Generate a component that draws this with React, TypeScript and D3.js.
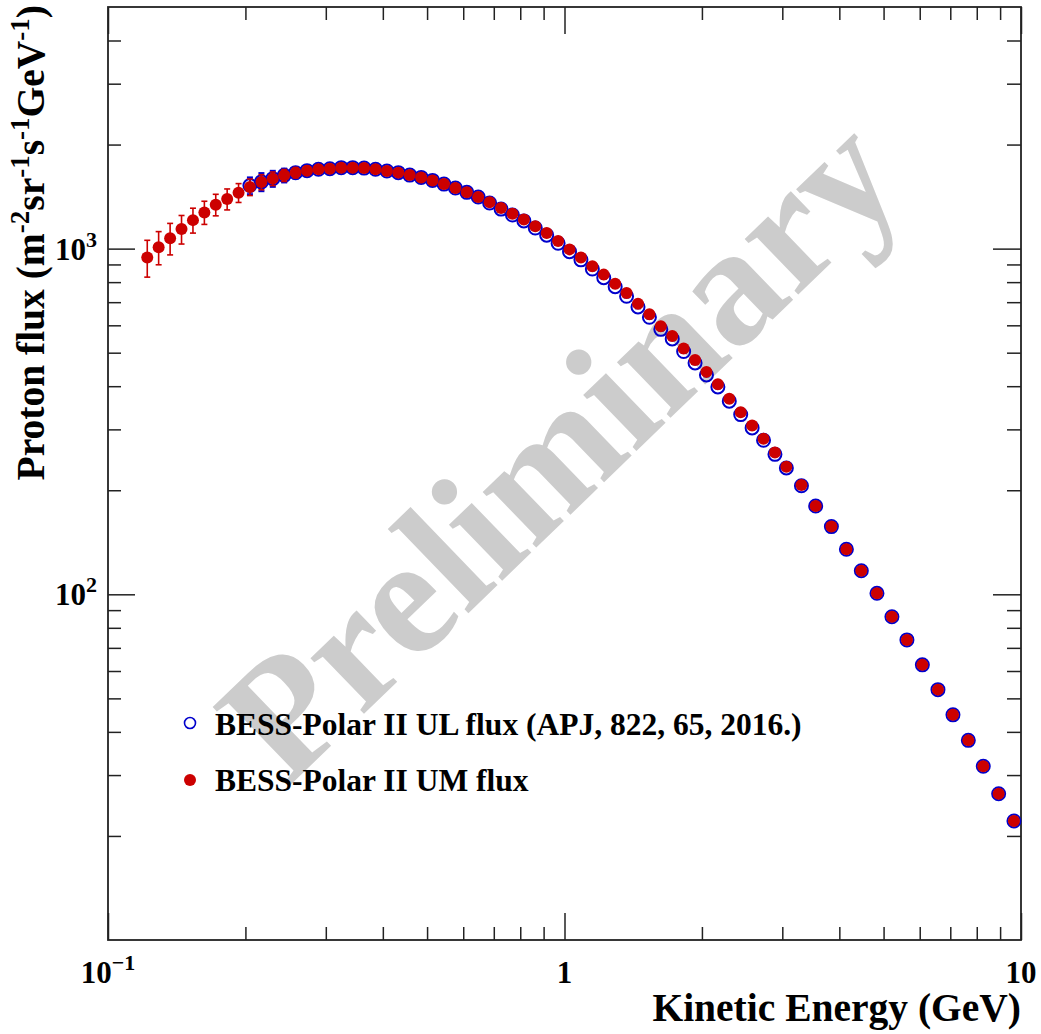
import React, { useEffect, useRef } from 'react'
import * as d3 from 'd3'

// BESS-Polar II UM flux (red, filled)
const energyUM = [0.1219, 0.1291, 0.1368, 0.1449, 0.1535, 0.1626, 0.1722, 0.1824, 0.1932, 0.2046,
  0.2168, 0.2296, 0.2432, 0.2576, 0.2729, 0.2891, 0.3062, 0.3243, 0.3436, 0.3639,
  0.3855, 0.4083, 0.4325, 0.4581, 0.4853, 0.5140, 0.5445, 0.5768, 0.6109, 0.6471,
  0.6855, 0.7261, 0.7691, 0.8147, 0.8630, 0.9141, 0.9683, 1.0257, 1.0864, 1.1508,
  1.2190, 1.2912, 1.3677, 1.4488, 1.5346, 1.6255, 1.7219, 1.8239, 1.9320, 2.0464,
  2.1677, 2.2961, 2.4322, 2.5763, 2.7290, 2.8907, 3.0620, 3.304, 3.550, 3.843,
  4.145, 4.469, 4.836, 5.215, 5.625, 6.080, 6.578, 7.095, 7.667, 8.267, 8.934, 9.650]
const fluxUM = [942, 1009, 1071, 1139, 1209, 1273, 1340, 1391, 1451, 1507,
  1558, 1594, 1629, 1659, 1681, 1696, 1703, 1715, 1715, 1710,
  1696, 1677, 1659, 1632, 1607, 1575, 1537, 1497, 1455, 1410,
  1361, 1310, 1262, 1215, 1160, 1109, 1052, 995, 942, 889,
  841, 792, 744, 693, 646, 596, 559, 514, 476, 440,
  405, 368, 336, 308, 282, 257, 234, 207, 180, 157,
  135, 117, 100.7, 86.1, 73.8, 62.5, 53.0, 44.8, 37.8, 31.8, 26.5, 22.1]
const errUM = [115, 111, 112, 108, 100, 98, 96, 97, 91, 83,
  78, 72, 65, 58, 50, 42, 36, 32, 29, 27,
  25, 24, 23, 22, 21, 20, 19, 18, 17, 16,
  15, 14, 13, 12, 12, 11, 10, 10, 9, 9,
  8, 8, 7, 7, 6, 6, 6, 5, 5, 5,
  4, 4, 4, 3, 3, 3, 3, 3, 2, 2,
  2, 2, 2, 1.5, 1.3, 1.1, 1, 0.9, 0.8, 0.7, 0.6, 0.5]

// BESS-Polar II UL flux (blue, open) - same bins, starting at 0.2 GeV
const energyUL = energyUM.slice(9)
const fluxUL = [1522, 1560, 1594, 1629, 1659, 1681, 1696, 1703, 1715, 1715,
  1710, 1696, 1677, 1659, 1632, 1607, 1575, 1537, 1497, 1455,
  1410, 1355, 1301, 1251, 1203, 1147, 1094, 1036, 980, 928,
  873, 824, 776, 728, 678, 633, 584, 548, 504, 467,
  431, 398, 362, 331, 303, 279, 254, 232, 206, 180,
  157, 135, 117, 100.7, 86.1, 73.8, 62.5, 53.0, 44.8, 37.8,
  31.8, 26.5, 22.1]
const errUL = [85, 94, 85, 75, 62, 50, 40, 34, 30, 28,
  26, 24, 22, 21, 20, 19, 18, 17, 16, 15,
  14, 13, 12, 12, 11, 10, 10, 9, 9, 8,
  8, 7, 7, 6, 6, 6, 5, 5, 5, 4,
  4, 4, 3, 3, 3, 3, 3, 2, 2, 2,
  2, 2, 2, 1.5, 1.3, 1.1, 1, 0.9, 0.8, 0.7,
  0.6, 0.5, 0.4]

const xMajor = [0.1, 1, 10]
const xMinor = [0.2, 0.3, 0.4, 0.5, 0.6, 0.7, 0.8, 0.9, 2, 3, 4, 5, 6, 7, 8, 9]
const yMajor = [100, 1000]
const yMinor = [20, 30, 40, 50, 60, 70, 80, 90, 200, 300, 400, 500, 600, 700, 800, 900, 2000, 3000, 4000]
const xLabels = [{ v: 0.1, base: '10', sup: '\u22121' }, { v: 1, base: '1', sup: '' }, { v: 10, base: '10', sup: '' }]
const yLabels = [{ v: 100, base: '10', sup: '2' }, { v: 1000, base: '10', sup: '3' }]

const legendItems = ['BESS-Polar II UL flux (APJ, 822, 65, 2016.)', 'BESS-Polar II UM flux']

const RED = '#cc0000'
const BLUE = '#0000cc'
const FONT = '"Liberation Serif", "Times New Roman", serif'

function drawChart(svgEl: SVGSVGElement) {
  const svg = d3.select(svgEl)
  svg.selectAll('*').remove()

  const left = 108, right = 1021, top = 7, bottom = 940

  const x = d3.scaleLog().domain([0.1, 10]).range([left, right])
  const y = d3.scaleLog().domain([10, 5000]).range([bottom, top])

  // watermark
  svg.append('text')
    .attr('transform', 'translate(598,488) rotate(-44)')
    .attr('text-anchor', 'middle')
    .attr('font-family', FONT)
    .attr('font-weight', 'bold')
    .attr('font-size', 168)
    .attr('fill', '#cccccc')
    .text('Preliminary')

  // axes ticks (inside the frame, ROOT style)
  const tick = (axis: any, tr: string, size: number, values: number[]) => {
    const g = svg.append('g').attr('transform', tr)
      .call(axis.tickValues(values).tickSize(size).tickFormat(() => ''))
    g.select('.domain').remove()
    g.selectAll('line').attr('stroke', '#222').attr('stroke-width', 1.5)
  }
  tick(d3.axisBottom(x), `translate(0,${bottom})`, -13, xMinor)
  tick(d3.axisBottom(x), `translate(0,${bottom})`, -27, xMajor)
  tick(d3.axisTop(x), `translate(0,${top})`, -13, xMinor)
  tick(d3.axisTop(x), `translate(0,${top})`, -27, xMajor)
  tick(d3.axisLeft(y), `translate(${left},0)`, -13, yMinor)
  tick(d3.axisLeft(y), `translate(${left},0)`, -27, yMajor)
  tick(d3.axisRight(y), `translate(${right},0)`, -14, yMinor)
  tick(d3.axisRight(y), `translate(${right},0)`, -28, yMajor)

  svg.append('rect')
    .attr('x', left).attr('y', top)
    .attr('width', right - left).attr('height', bottom - top)
    .attr('fill', 'none').attr('stroke', '#222').attr('stroke-width', 1.8)

  // tick labels
  xLabels.forEach(d => {
    const t = svg.append('text')
      .attr('x', x(d.v)).attr('y', 983)
      .attr('text-anchor', 'middle')
      .attr('font-family', FONT).attr('font-weight', 'bold').attr('font-size', 31)
    t.append('tspan').text(d.base)
    if (d.sup) t.append('tspan').attr('font-size', 22).attr('dy', -13).text(d.sup)
  })
  yLabels.forEach(d => {
    const t = svg.append('text')
      .attr('x', 97).attr('y', y(d.v) + 11)
      .attr('text-anchor', 'end')
      .attr('font-family', FONT).attr('font-weight', 'bold').attr('font-size', 31)
    t.append('tspan').text(d.base)
    t.append('tspan').attr('font-size', 22).attr('dy', -13).text(d.sup)
  })

  // axis titles
  svg.append('text')
    .attr('x', right).attr('y', 1021)
    .attr('text-anchor', 'end')
    .attr('font-family', FONT).attr('font-weight', 'bold').attr('font-size', 39.5)
    .text('Kinetic Energy (GeV)')

  const yt = svg.append('text')
    .attr('transform', 'translate(44,5) rotate(-90)')
    .attr('text-anchor', 'end')
    .attr('font-family', FONT).attr('font-weight', 'bold').attr('font-size', 39.5)
  const parts: [string, boolean][] = [['Proton flux (m', false], ['-2', true], ['sr', false], ['-1', true],
    ['s', false], ['-1', true], ['GeV', false], ['-1', true], [')', false]]
  parts.forEach(([s, sup]) => {
    yt.append('tspan')
      .attr('dy', sup ? -15 : 15)
      .attr('font-size', sup ? 27 : 39.5)
      .text(s)
  })
  yt.select('tspan').attr('dy', 0)

  // error bars
  const errBars = (en: number[], fl: number[], er: number[], color: string, w: number) => {
    const g = svg.append('g').attr('stroke', color).attr('stroke-width', w)
    en.forEach((e, i) => {
      const cx = x(e), y1 = y(fl[i] + er[i]), y2 = y(fl[i] - er[i])
      g.append('line').attr('x1', cx).attr('x2', cx).attr('y1', y1).attr('y2', y2)
      g.append('line').attr('x1', cx - 3).attr('x2', cx + 3).attr('y1', y1).attr('y2', y1)
      g.append('line').attr('x1', cx - 3).attr('x2', cx + 3).attr('y1', y2).attr('y2', y2)
    })
  }
  errBars(energyUL, fluxUL, errUL, BLUE, 2)
  svg.append('g').selectAll('circle')
    .data(energyUL)
    .enter()
    .append('circle')
    .attr('cx', d => x(d))
    .attr('cy', (d, i) => y(fluxUL[i]))
    .attr('r', 6.5)
    .attr('fill', 'none')
    .attr('stroke', BLUE)
    .attr('stroke-width', 2)

  errBars(energyUM, fluxUM, errUM, RED, 1.6)
  svg.append('g').selectAll('circle')
    .data(energyUM)
    .enter()
    .append('circle')
    .attr('cx', d => x(d))
    .attr('cy', (d, i) => y(fluxUM[i]))
    .attr('r', 6)
    .attr('fill', RED)

  // legend
  const lg = svg.append('g')
  lg.append('circle').attr('cx', 190).attr('cy', 723).attr('r', 5.5)
    .attr('fill', 'none').attr('stroke', BLUE).attr('stroke-width', 1.6)
  lg.append('circle').attr('cx', 190).attr('cy', 780).attr('r', 6).attr('fill', RED)
  legendItems.forEach((s, i) => {
    lg.append('text')
      .attr('x', 215).attr('y', 735 + i * 56)
      .attr('font-family', FONT).attr('font-weight', 'bold').attr('font-size', 31.5)
      .text(s)
  })
}

export default function App() {
  const ref = useRef<SVGSVGElement>(null)

  useEffect(() => {
    if (ref.current) drawChart(ref.current)
  }, [])

  return (
    <svg ref={ref} width={1041} height={1034}
      style={{ position: 'absolute', left: 0, top: 0, background: '#fff' }} />
  )
}
